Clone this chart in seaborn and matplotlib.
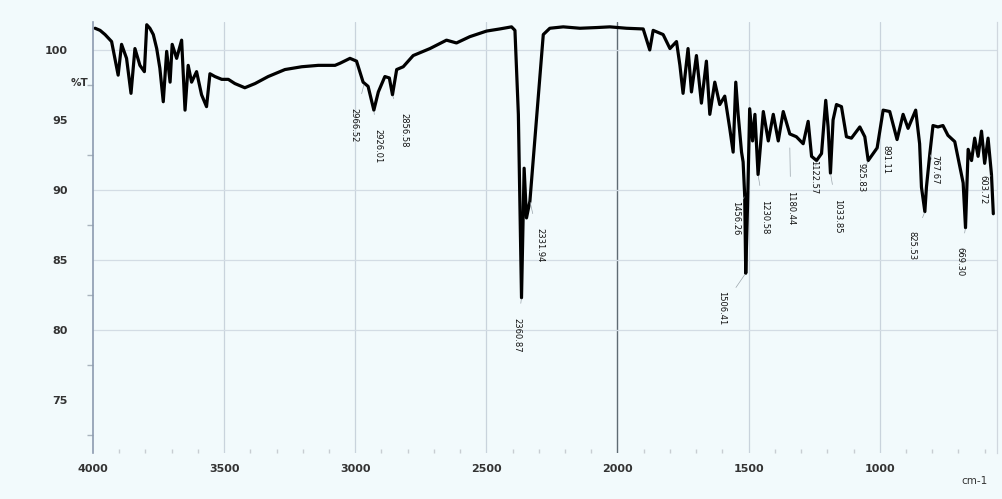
import matplotlib
matplotlib.use("Agg")
import matplotlib.pyplot as plt
from matplotlib.ticker import MultipleLocator
import seaborn as sns
import pandas as pd

# spectrum (cm-1, %T)
wavenumber = [3992, 3973, 3954, 3929, 3904, 3891, 3872, 3855, 3840, 3821, 3804, 3795,
              3783, 3770, 3757, 3745, 3732, 3719, 3706, 3698, 3681, 3662, 3649, 3637,
              3624, 3605, 3586, 3567, 3554, 3535, 3509, 3484, 3459, 3421, 3382, 3332,
              3268, 3204, 3141, 3077, 3058, 3020, 2995, 2970, 2951, 2929, 2912, 2887,
              2870, 2858, 2842, 2817, 2779, 2715, 2652, 2614, 2563, 2499, 2449, 2404,
              2391, 2378, 2366, 2356, 2347, 2334, 2283, 2258, 2207, 2143, 2080, 2029,
              1966, 1902, 1877, 1864, 1826, 1800, 1775, 1762, 1750, 1731, 1718, 1699,
              1680, 1661, 1648, 1629, 1610, 1591, 1572, 1559, 1549, 1540, 1527, 1521,
              1515, 1511, 1504, 1496, 1485, 1476, 1464, 1444, 1425, 1406, 1387, 1368,
              1343, 1318, 1292, 1273, 1260, 1241, 1222, 1206, 1197, 1188, 1178, 1165,
              1146, 1127, 1108, 1076, 1057, 1044, 1010, 987, 962, 934, 911, 892,
              863, 848, 841, 828, 822, 809, 797, 778, 759, 740, 714, 695,
              682, 673, 663, 650, 638, 625, 612, 600, 587, 574, 567]
transmittance = [101.55, 101.4, 101.1, 100.6, 98.2, 100.4, 99.4, 96.9, 100.1, 98.9, 98.45, 101.8,
                 101.55, 101.1, 100.1, 98.7, 96.3, 99.9, 97.7, 100.4, 99.4, 100.7, 95.7, 98.9,
                 97.7, 98.45, 96.8, 95.95, 98.3, 98.1, 97.9, 97.9, 97.6, 97.3, 97.6, 98.1,
                 98.6, 98.8, 98.9, 98.9, 99.05, 99.4, 99.2, 97.7, 97.4, 95.7, 97.0, 98.1,
                 98.0, 96.8, 98.6, 98.8, 99.6, 100.1, 100.7, 100.5, 100.95, 101.35, 101.5, 101.65,
                 101.4, 95.4, 82.3, 91.55, 88.0, 89.2, 101.1, 101.55, 101.65, 101.55, 101.6, 101.65,
                 101.55, 101.5, 100.0, 101.4, 101.1, 100.1, 100.6, 98.9, 96.9, 100.1, 97.0, 99.6,
                 96.2, 99.2, 95.4, 97.7, 96.1, 96.7, 94.4, 92.7, 97.7, 95.4, 92.7, 92.0,
                 89.6, 84.05, 89.0, 95.8, 93.5, 95.4, 91.1, 95.6, 93.5, 95.4, 93.5, 95.6,
                 94.0, 93.8, 93.3, 94.9, 92.4, 92.1, 92.6, 96.4, 94.5, 91.2, 95.0, 96.1,
                 95.95, 93.8, 93.7, 94.5, 93.8, 92.1, 93.0, 95.7, 95.6, 93.6, 95.4, 94.4,
                 95.7, 93.3, 90.2, 88.45, 90.2, 92.6, 94.6, 94.5, 94.6, 93.9, 93.45, 91.7,
                 90.5, 87.3, 92.9, 92.1, 93.7, 92.4, 94.2, 91.9, 93.7, 91.1, 88.3]

# peak labels: text, peak position, label position
peak_labels = ["2966.52", "2926.01", "2856.58", "2331.94", "2360.87", "1506.41",
               "1456.26", "1230.58", "1180.44", "1122.57", "1033.85", "925.83",
               "891.11", "825.53", "767.67", "669.30", "603.72"]
peak_x = [2966, 2929, 2858, 2334, 2366, 1511, 1515, 1464, 1343, 1241, 1188, 1044,
          1010, 828, 809, 673, 574]
peak_y = [97.6, 95.7, 96.8, 89.2, 82.3, 84.05, 89.6, 91.1, 93.1, 92.1, 91.2, 92.1,
          93.0, 88.45, 92.6, 87.3, 91.1]
label_x = [3005, 2914, 2815, 2296, 2384, 1602, 1550, 1438, 1339, 1251, 1160, 1072,
           977, 878, 790, 695, 607]
label_y = [94.64, 93.14, 94.29, 86.07, 79.64, 81.57, 88.0, 88.07, 88.71, 90.93, 88.14, 90.86,
           92.14, 86.0, 91.43, 84.86, 90.0]

x_ticks = [4000, 3500, 3000, 2500, 2000, 1500, 1000]
y_ticks = [75, 80, 85, 90, 95, 100]
h_grid = [80, 85, 90, 100]

bg = "#f2fafc"
sns.set_theme(style="white")
plt.rcParams["font.family"] = ["DejaVu Sans"]

df = pd.DataFrame({"cm-1": wavenumber, "%T": transmittance})

fig = plt.figure(figsize=(10.03, 4.99), dpi=100, facecolor=bg)
ax = fig.add_axes([0.0927, 0.092, 0.9013, 0.864])
ax.set_facecolor(bg)

# grid
for x in x_ticks[1:]:
    ax.axvline(x, color="#5f6b73" if x == 2000 else "#c9d3dc", lw=1.0 if x == 2000 else 0.9, zorder=0)
for y in h_grid:
    ax.axhline(y, color="#d3dce4", lw=0.9, zorder=0)

sns.lineplot(data=df, x="cm-1", y="%T", sort=False, estimator=None,
             color="black", lw=2.3, ax=ax)

for txt, px, py, lx, ly in zip(peak_labels, peak_x, peak_y, label_x, label_y):
    ax.annotate(txt, xy=(px, py), xytext=(lx, ly), rotation=-90,
                ha="center", va="center", fontsize=6.0, color="#111111",
                arrowprops=dict(arrowstyle="-", color="#9aa4ab", lw=0.5,
                                shrinkA=8, shrinkB=1))

ax.set_xlim(4000, 553)
ax.set_ylim(71.2, 102.0)
ax.set_xticks(x_ticks)
ax.set_yticks(y_ticks)
ax.xaxis.set_minor_locator(MultipleLocator(100))
ax.yaxis.set_minor_locator(MultipleLocator(2.5))
ax.tick_params(axis="x", which="major", length=0, pad=8, labelsize=8, labelcolor="#333333")
ax.tick_params(axis="x", which="minor", length=3, color="#c8cdd2", direction="in", bottom=True)
ax.tick_params(axis="y", which="major", length=0, pad=18, labelsize=8, labelcolor="#333333")
ax.tick_params(axis="y", which="minor", length=4, color="#aab4be", direction="out", left=True)
for lab in ax.get_xticklabels() + ax.get_yticklabels():
    lab.set_fontweight("bold")
ax.set_xlabel("")
ax.set_ylabel("")

for side in ["top", "bottom"]:
    ax.spines[side].set_visible(False)
ax.spines["left"].set_color("#8d9bb0")
ax.spines["left"].set_linewidth(1.2)
ax.spines["right"].set_color("#d0d7de")
ax.spines["right"].set_linewidth(0.9)

fig.text(0.07, 1 - 83 / 499, "%T", fontsize=7.5, fontweight="bold", color="#333333",
         ha="left", va="center")
fig.text(0.972, 1 - 481 / 499, "cm-1", fontsize=7.5, color="#333333", ha="center", va="center")

fig.savefig("out.png", dpi=100, facecolor=bg)
